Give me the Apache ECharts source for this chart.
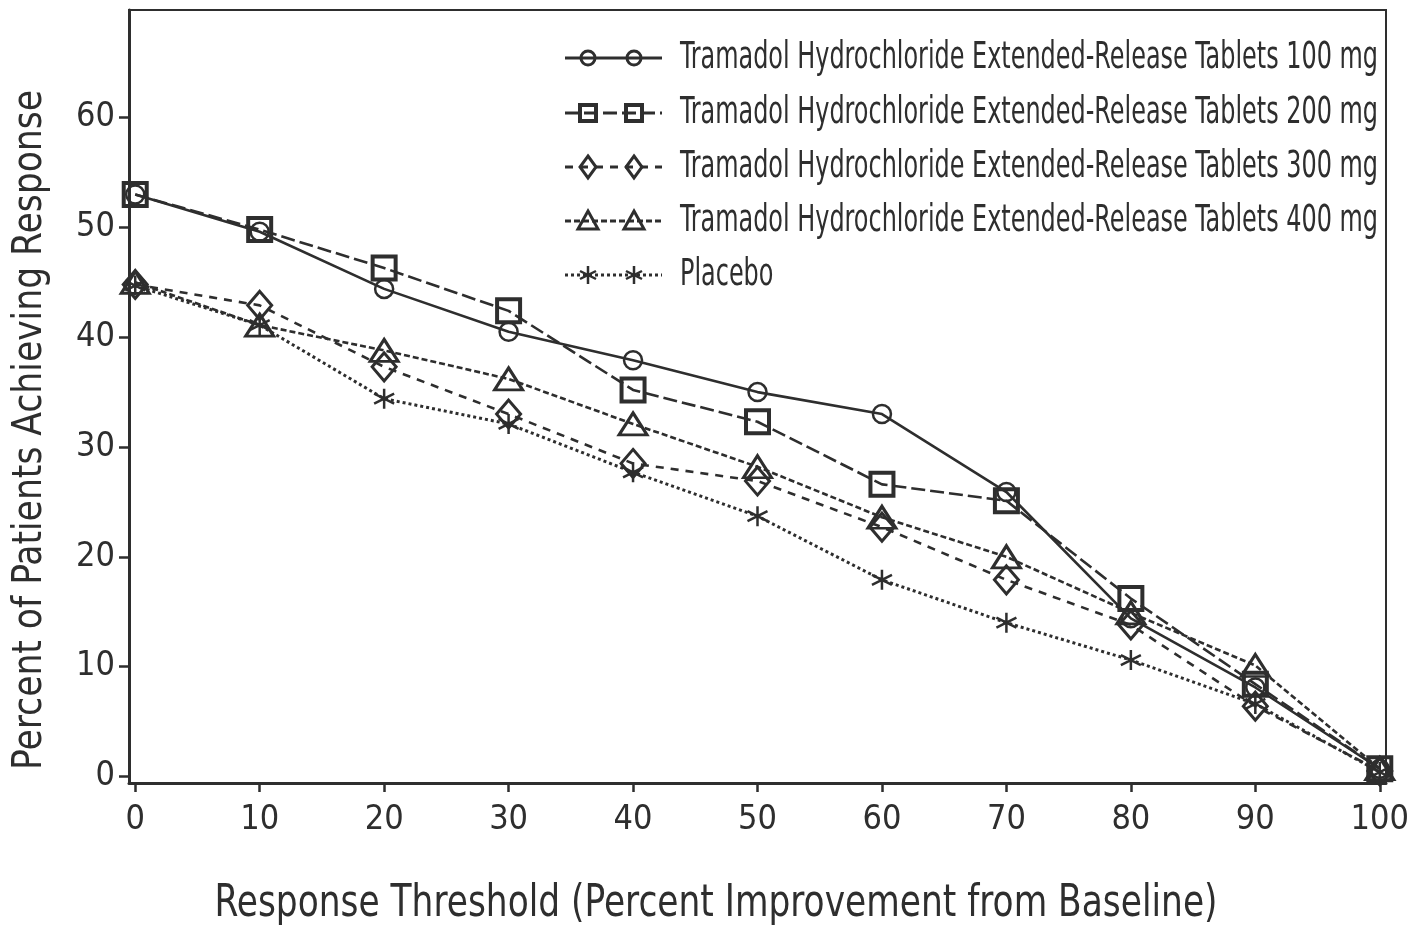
<!DOCTYPE html>
<html>
<head>
<meta charset="utf-8">
<script src="https://cdn.jsdelivr.net/npm/echarts@6/dist/echarts.min.js"></script>
<style>html,body{margin:0;padding:0;background:#fff;}#c{width:1420px;height:927px;}</style>
</head>
<body>
<div id="c"></div>
<script>
const thresholds = [0, 10, 20, 30, 40, 50, 60, 70, 80, 90, 100];
const seriesNames = [
  'Tramadol Hydrochloride Extended-Release Tablets 100 mg',
  'Tramadol Hydrochloride Extended-Release Tablets 200 mg',
  'Tramadol Hydrochloride Extended-Release Tablets 300 mg',
  'Tramadol Hydrochloride Extended-Release Tablets 400 mg',
  'Placebo'
];
const mg100 = [53.0, 49.6, 44.4, 40.5, 37.9, 35.0, 33.0, 25.9, 14.4, 8.1, 0.7];
const mg200 = [53.0, 49.8, 46.3, 42.4, 35.2, 32.3, 26.6, 25.1, 16.2, 8.4, 0.7];
const mg300 = [44.8, 42.9, 37.3, 33.0, 28.5, 26.9, 22.7, 17.9, 13.8, 6.4, 0.5];
const mg400 = [45.0, 41.1, 38.8, 36.2, 32.1, 28.2, 23.6, 20.0, 14.9, 10.1, 0.7];
const placebo = [44.7, 41.1, 34.4, 32.1, 27.7, 23.7, 17.9, 14.0, 10.6, 6.6, 0.4];
const yTicks = [0, 10, 20, 30, 40, 50, 60];
const xTicks = [0, 10, 20, 30, 40, 50, 60, 70, 80, 90, 100];
const xTitle = 'Response Threshold (Percent Improvement from Baseline)';
const yTitle = 'Percent of Patients Achieving Response';

const INK = '#2e2e2e';
const FONT = '"DejaVu Sans Condensed", "Liberation Sans", sans-serif';
const starPath = 'path://M0,-10L0,10M-9,-5L9,5M-9,5L9,-5';

const ctx = document.createElement('canvas').getContext('2d');
function textW(t, size) { ctx.font = size + 'px ' + FONT; return ctx.measureText(t).width; }

function pairs(vals) { return thresholds.map((t, i) => [t, vals[i]]); }

const styles = [
  { symbol: 'circle', size: 18, dash: 'solid', bw: 2.5, lw: 2.6 },
  { symbol: 'rect', size: 23, dash: [14, 5], bw: 4, lw: 2.6 },
  { symbol: 'diamond', size: [24, 28], dash: [8, 7], bw: 3, lw: 2.6 },
  { symbol: 'triangle', size: [28, 22], dash: [6, 3], bw: 3, lw: 2.6 },
  { symbol: starPath, size: 20, dash: [3, 3], bw: 2.5, lw: 3 }
];
const allVals = [mg100, mg200, mg300, mg400, placebo];

const series = allVals.map((vals, k) => ({
  name: seriesNames[k], type: 'line', data: pairs(vals),
  symbol: styles[k].symbol, symbolSize: styles[k].size, showSymbol: true,
  lineStyle: { color: INK, width: styles[k].lw, type: styles[k].dash },
  itemStyle: { color: 'rgba(0,0,0,0)', borderColor: INK, borderWidth: styles[k].bw, opacity: 1 },
  emphasis: { disabled: true }, z: 2
}));

// Custom legend (two markers on each sample line, condensed text)
const LEG_FS = 37;
const legScale = 698 / textW(seriesNames[0], LEG_FS);
const legRows = [58, 113, 167, 221, 275];
const legend = [];
function legMarker(k, cx, cy) {
  const st = { fill: 'rgba(0,0,0,0)', stroke: INK, lineWidth: 3 };
  if (k === 0) return { type: 'circle', shape: { cx: cx, cy: cy, r: 7 }, style: st };
  if (k === 1) return { type: 'rect', shape: { x: cx - 8, y: cy - 8, width: 16, height: 16 }, style: Object.assign({}, st, { lineWidth: 4 }) };
  if (k === 2) return { type: 'polygon', shape: { points: [[cx, cy - 11], [cx + 8, cy], [cx, cy + 11], [cx - 8, cy]] }, style: st };
  if (k === 3) return { type: 'polygon', shape: { points: [[cx, cy - 10], [cx + 10, cy + 8], [cx - 10, cy + 8]] }, style: st };
  return { type: 'group', children: [
    { type: 'line', shape: { x1: cx, y1: cy - 9, x2: cx, y2: cy + 9 }, style: { stroke: INK, lineWidth: 2.5 } },
    { type: 'line', shape: { x1: cx - 8, y1: cy - 4, x2: cx + 8, y2: cy + 4 }, style: { stroke: INK, lineWidth: 2.5 } },
    { type: 'line', shape: { x1: cx - 8, y1: cy + 4, x2: cx + 8, y2: cy - 4 }, style: { stroke: INK, lineWidth: 2.5 } }
  ] };
}
seriesNames.forEach((nm, k) => {
  const cy = legRows[k];
  const dash = styles[k].dash === 'solid' ? null : styles[k].dash;
  legend.push({ type: 'line', shape: { x1: 565, y1: cy, x2: 662, y2: cy }, style: { stroke: INK, lineWidth: 3, lineDash: dash } });
  legend.push(legMarker(k, 588, cy));
  legend.push(legMarker(k, 634, cy));
  legend.push({ type: 'text', x: 680, y: cy, scaleX: legScale, style: { text: nm, fontFamily: FONT, fontSize: LEG_FS, fill: INK, textAlign: 'left', textVerticalAlign: 'middle' } });
});

const xtScale = 1003 / textW(xTitle, 44);
const ytScale = 680 / textW(yTitle, 40);

const chart = echarts.init(document.getElementById('c'), null, { renderer: 'canvas' });
chart.setOption({
  animation: false,
  backgroundColor: '#fff',
  grid: { left: 129, right: 34, top: 10, bottom: 144, show: true, borderColor: INK, borderWidth: 2, containLabel: false },
  xAxis: {
    type: 'value', min: -0.5, max: 100.5,
    axisLine: { show: true, onZero: false, lineStyle: { color: INK, width: 3 } },
    axisTick: { show: true, customValues: xTicks, length: 9, lineStyle: { color: INK, width: 2.5 } },
    axisLabel: { customValues: xTicks, margin: 20, fontFamily: FONT, fontSize: 34, color: INK },
    splitLine: { show: false }
  },
  yAxis: {
    type: 'value', min: -0.6, max: 69.8,
    axisLine: { show: true, onZero: false, lineStyle: { color: INK, width: 3 } },
    axisTick: { show: true, customValues: yTicks, length: 10, lineStyle: { color: INK, width: 2.5 } },
    axisLabel: { customValues: yTicks, margin: 14, fontFamily: FONT, fontSize: 34, color: INK },
    splitLine: { show: false }
  },
  graphic: [
    { type: 'text', x: 716, y: 905, scaleX: xtScale, style: { text: xTitle, fontFamily: FONT, fontSize: 44, fill: INK, textAlign: 'center', textVerticalAlign: 'middle' } },
    { type: 'text', x: 31, y: 430, rotation: Math.PI / 2, scaleX: ytScale, style: { text: yTitle, fontFamily: FONT, fontSize: 40, fill: INK, textAlign: 'center', textVerticalAlign: 'middle' } }
  ].concat(legend),
  series: series
});
</script>
</body>
</html>
